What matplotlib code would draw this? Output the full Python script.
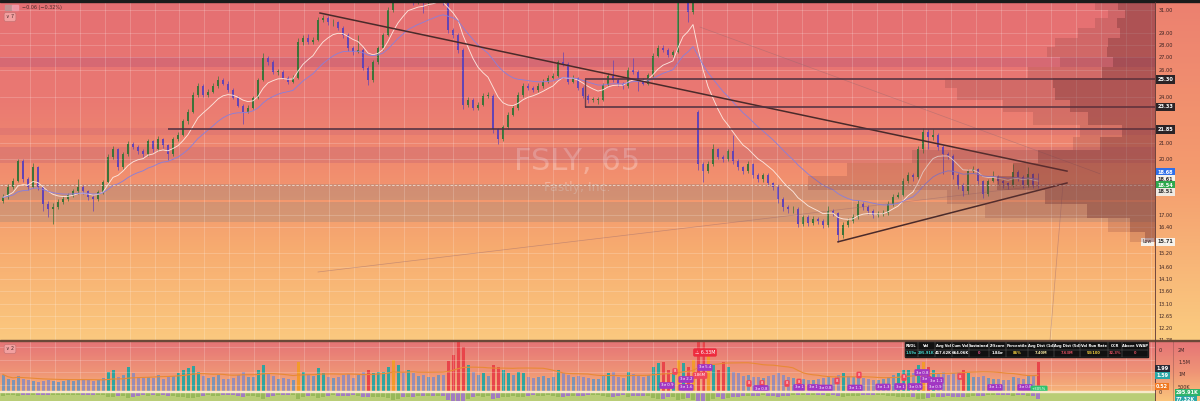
import numpy as np
import pandas as pd
import matplotlib
matplotlib.use("Agg")
import matplotlib.pyplot as plt
from matplotlib.patches import Rectangle
from matplotlib.transforms import offset_copy
from matplotlib.ticker import NullLocator, NullFormatter

# ---- FSLY 65m candles ----
closes = [17.90, 18.44, 18.76, 19.89, 18.87, 18.44, 19.55, 18.44, 17.54, 17.29,
          17.39, 17.64, 17.80, 18.01, 18.22, 18.44, 18.22, 17.90, 17.80, 18.17,
          18.71, 20.13, 20.60, 19.55, 20.30, 20.90, 20.72, 20.48, 20.30, 21.09,
          20.60, 21.21, 20.84, 20.30, 21.21, 21.52, 22.36, 23.01, 24.19, 24.83,
          24.19, 24.40, 24.83, 25.27, 24.98, 24.54, 23.98, 23.42, 23.01, 23.28,
          23.98, 25.27, 26.95, 26.63, 25.87, 25.87, 25.42, 25.12, 25.42, 28.23,
          28.57, 28.23, 28.40, 30.11, 30.28, 29.93, 29.93, 29.41, 28.82, 27.74,
          27.42, 27.58, 26.17, 25.27, 26.63, 27.74, 28.82, 31.00, 32.38, 32.86,
          32.67, 33.05, 31.73, 31.92, 31.64, 32.11, 31.92, 32.38, 31.73, 29.24,
          28.82, 27.58, 23.49, 23.84, 23.28, 23.49, 24.12, 24.12, 21.84, 21.21,
          21.97, 22.82, 23.28, 24.19, 24.83, 24.69, 24.54, 24.83, 25.12, 25.42,
          25.57, 26.63, 26.48, 25.12, 25.42, 24.69, 24.12, 23.84, 23.84, 23.84,
          24.90, 25.57, 25.27, 24.98, 24.83, 26.02, 25.87, 25.27, 24.98, 25.64,
          27.11, 27.74, 27.58, 27.18, 27.42, 31.92, 32.38, 30.82, 32.11, 19.72,
          19.32, 19.72, 20.60, 20.13, 20.01, 20.48, 19.89, 19.55, 19.32, 19.72,
          19.09, 18.87, 19.09, 18.65, 18.44, 17.80, 17.39, 17.29, 17.29, 16.55,
          16.89, 16.60, 16.79, 16.70, 16.50, 17.19, 17.09, 16.03, 16.50, 16.70,
          16.89, 17.54, 17.39, 17.19, 16.99, 17.04, 17.09, 17.54, 17.90, 18.01,
          18.76, 19.09, 18.98, 20.60, 21.71, 21.34, 21.52, 20.72, 20.30, 20.19,
          19.09, 18.55, 18.22, 19.32, 19.43, 18.76, 18.06, 18.76, 18.98, 18.76,
          18.65, 18.55, 19.26, 18.98, 18.55, 19.15, 18.55, 18.54]
highs = [18.05, 18.6, 18.95, 20.05, 20.0, 19.0, 19.8, 19.6, 18.5, 17.7,
         17.6, 17.8, 17.95, 18.15, 18.35, 18.9, 18.55, 18.3, 18.0, 18.3,
         18.85, 20.3, 20.8, 20.7, 20.45, 21.1, 21.05, 20.85, 20.6, 21.25,
         21.2, 21.4, 21.3, 20.95, 21.35, 21.7, 22.5, 23.2, 24.4, 25.0,
         24.95, 24.6, 25.0, 25.55, 25.4, 25.2, 24.65, 24.1, 23.5, 23.45,
         24.1, 25.4, 27.3, 27.1, 26.75, 26.1, 26.0, 25.55, 25.6, 28.6,
         28.8, 28.9, 28.65, 30.35, 30.55, 30.45, 30.2, 30.05, 29.55, 28.95,
         27.9, 28.8, 27.7, 26.3, 26.8, 27.9, 29.0, 31.3, 32.7, 33.2,
         33.1, 33.4, 33.2, 32.2, 32.1, 32.4, 32.3, 32.7, 32.6, 31.9,
         29.4, 29.0, 27.7, 24.0, 23.95, 23.65, 24.3, 24.35, 24.2, 21.95,
         22.1, 23.0, 23.45, 24.35, 25.0, 25.0, 24.8, 25.0, 25.3, 25.6,
         25.8, 26.8, 27.4, 26.6, 25.6, 25.5, 24.8, 24.25, 24.05, 24.0,
         25.05, 25.75, 26.8, 25.4, 25.1, 26.2, 26.95, 26.0, 25.4, 25.8,
         27.3, 28.0, 27.95, 27.7, 27.6, 32.2, 32.8, 32.5, 32.5, 23.1,
         19.85, 19.9, 20.9, 20.7, 20.25, 20.65, 21.5, 20.0, 19.65, 19.9,
         19.8, 19.2, 19.25, 19.2, 18.75, 18.55, 17.9, 17.5, 17.45, 17.4,
         17.0, 17.0, 16.95, 16.9, 16.8, 17.45, 17.3, 17.15, 16.65, 16.85,
         17.05, 17.75, 17.65, 17.5, 17.3, 17.2, 17.25, 17.7, 18.05, 18.2,
         18.95, 19.3, 19.2, 20.8, 21.95, 21.85, 21.9, 21.6, 20.85, 20.45,
         20.3, 19.2, 18.65, 19.45, 19.6, 19.5, 18.85, 18.9, 19.35, 19.1,
         18.9, 18.75, 19.72, 19.4, 19.1, 19.55, 19.25, 19.2]
lows = [17.6, 17.8, 18.35, 18.7, 18.75, 18.3, 18.4, 18.3, 17.2, 16.9,
        16.55, 17.3, 17.55, 17.7, 17.9, 18.1, 18.1, 17.75, 17.2, 17.7,
        18.1, 18.6, 20.0, 19.4, 19.45, 20.2, 20.6, 20.35, 20.15, 20.2,
        20.45, 20.5, 20.7, 19.95, 20.2, 21.1, 21.4, 22.2, 22.9, 24.0,
        24.0, 24.0, 24.3, 24.7, 24.85, 24.4, 23.85, 23.3, 22.2, 22.9,
        23.2, 23.9, 25.2, 26.4, 25.7, 25.6, 25.3, 24.95, 25.0, 25.3,
        28.0, 28.1, 28.1, 28.3, 29.9, 29.7, 29.6, 29.2, 28.6, 27.5,
        27.2, 27.3, 26.0, 24.85, 25.1, 26.5, 27.6, 28.7, 30.8, 32.1,
        32.4, 32.5, 31.5, 31.6, 30.7, 31.5, 31.7, 31.8, 31.5, 29.0,
        28.6, 27.3, 23.2, 23.3, 23.1, 23.1, 23.4, 23.95, 21.6, 20.95,
        21.1, 21.85, 22.7, 23.15, 24.05, 24.5, 24.35, 24.4, 24.7, 25.0,
        25.3, 25.45, 26.3, 24.95, 25.0, 24.5, 23.95, 23.6, 23.65, 23.5,
        23.75, 24.8, 25.1, 24.8, 24.6, 24.7, 25.7, 24.47, 24.85, 24.85,
        25.5, 27.0, 27.4, 27.0, 27.0, 27.3, 31.7, 29.9, 30.6, 19.4,
        18.7, 19.2, 19.6, 20.0, 19.85, 19.9, 19.75, 19.4, 19.15, 19.2,
        18.95, 18.7, 18.75, 18.5, 18.3, 17.6, 17.2, 17.1, 17.1, 16.4,
        16.45, 16.45, 16.5, 16.55, 16.35, 16.4, 16.95, 15.71, 15.9, 16.4,
        16.6, 16.8, 17.25, 17.05, 16.85, 16.9, 16.95, 17.0, 17.45, 17.85,
        17.95, 18.65, 18.8, 18.9, 20.4, 20.6, 21.2, 20.55, 19.15, 20.05,
        18.9, 18.35, 17.96, 18.1, 19.25, 18.6, 17.85, 17.95, 18.7, 18.6,
        18.4, 18.35, 18.45, 18.8, 18.4, 18.45, 18.4, 18.4]
open_fix = {0: 17.70, 139: 23.00}   # first bar and the gap-down bar

volumes_k = [700, 520, 480, 650, 540, 500, 460, 420, 450, 480,
             430, 420, 440, 470, 450, 500, 520, 480, 460, 500,
             560, 800, 900, 620, 700, 1000, 750, 600, 580, 620,
             560, 700, 520, 600, 640, 780, 900, 960, 1050, 820,
             640, 560, 600, 680, 540, 520, 560, 700, 820, 600,
             620, 880, 1100, 760, 640, 520, 560, 540, 500, 1200,
             820, 700, 640, 960, 760, 600, 560, 620, 680, 740,
             560, 700, 820, 900, 760, 800, 820, 1000, 1300, 1100,
             800, 900, 760, 640, 700, 620, 600, 700, 680, 1250,
             1500, 2000, 1800, 1100, 800, 700, 760, 640, 1100, 1000,
             880, 760, 700, 820, 760, 620, 560, 600, 640, 560,
             620, 900, 760, 700, 600, 640, 600, 560, 520, 540,
             700, 760, 820, 620, 560, 800, 720, 700, 600, 680,
             1000, 1150, 1200, 900, 800, 1300, 1150, 1000, 1300, 2600,
             2400, 1500, 1100, 900, 1200, 1000, 800, 760, 640, 700,
             620, 600, 560, 640, 700, 760, 680, 600, 560, 540,
             520, 500, 480, 540, 560, 600, 560, 700, 760, 640,
             620, 700, 560, 520, 500, 480, 520, 600, 680, 760,
             900, 880, 760, 1100, 1200, 1000, 900, 760, 820, 700,
             760, 820, 900, 760, 620, 600, 640, 560, 540, 520,
             500, 480, 600, 560, 520, 640, 700, 1200]

# drawings
upper_trend_idx = [63.4, 212.8]
upper_trend_px = [30.73, 19.33]
lower_trend_idx = [167, 212.8]
lower_trend_px = [15.71, 18.67]
levels = [25.30, 23.33, 21.85]
level_start = [116.4, 116.4, 33.0]
faint_lines = [([63.0, 211.4], [14.38, 18.65]),
               ([139.4, 219.4], [29.49, 19.18]),
               ([212.0, 209.4], [18.60, 11.78])]
zones = [(26.23, 27.01, '#9a3f78', 0.22), (21.46, 21.93, '#9a3f78', 0.12),
         (19.80, 20.72, '#9a3f78', 0.18), (17.76, 18.60, '#7d8080', 0.28),
         (16.64, 17.64, '#7d8080', 0.26)]

# volume profile (price bin edges, total / dark volume in K)
vp_edges = [31.74, 31.00, 30.28, 29.41, 28.56, 27.81, 27.01, 26.23, 25.40, 24.66, 23.81,
            22.98, 22.13, 21.36, 20.56, 19.80, 19.06, 18.29, 17.54, 16.83, 16.15, 15.70]
vp_total = [600, 470, 600, 770, 1000, 1080, 950, 1270, 2100, 1980, 1520,
            1220, 750, 820, 2430, 3080, 3470, 2080, 1700, 470, 250]
vp_dark = [370, 300, 380, 350, 470, 480, 420, 530, 1020, 1000, 850,
           670, 330, 550, 1170, 1420, 1580, 1100, 680, 250, 100]

price_ticks = [31, 29, 28, 27, 26, 24, 21, 20, 17, 16.4, 15.2, 14.6, 14.1, 13.6, 13.1, 12.65, 12.2, 11.78]

# volume pane tags
tag_idx = [140.4, 140.4, 139.4, 136.6, 132.8, 136.6, 134.4, 149.2, 151.8, 156.8, 159.2, 166.8, 171.2,
           151.6, 159.2, 162.0, 164.4, 170.4, 176.0, 179.4, 182.4, 186.4, 183.8, 184.6, 186.6,
           180.2, 191.4, 198.4, 204.4, 207.2]
tag_vol = [1580, 980, 660, 500, 260, 180, 820, 340, 340, 340, 400, 440, 680,
           140, 180, 180, 160, 160, 200, 220, 220, 220, 780, 500, 460,
           580, 620, 180, 180, 120]
tag_txt = ['\u26a0 6.33M', '3\u03c3 5.4', '1.86M', '3\u03c3 2.2', '3\u03c3 0.9', '3\u03c3 1.6', '8', '8', '8', '8', '8', '8', '8',
           '3\u03c3 0.8', '3\u03c3 1', '3\u03c3 1', '3\u03c3 0.8', '3\u03c3 1.1', '3\u03c3 1.3', '3\u03c3 1', '3\u03c3 0.9', '3\u03c3 0.9',
           '3\u03c3 0.8', '3\u03c3 1', '3\u03c3 1.1', '8', '8', '3\u03c3 1.1', '3\u03c3 0.8', '+305%']
tag_kind = ['big', 'p', 'r', 'p', 'p', 'p', 'r', 'r', 'r', 'r', 'r', 'r', 'r',
            'p', 'p', 'p', 'p', 'p', 'p', 'p', 'p', 'p', 'p', 'p', 'p', 'r', 'r', 'p', 'p', 'g']

headers = ['RVOL', 'Vol', 'Avg Vol', 'Cum Vol', 'Sustained', 'Z-Score', 'Percentile',
           'Avg Dist (1d)', 'Avg Dist (5d)', 'Vol Run Rate', 'OCR', 'Above VWAP']
cells = ['1.59x', '295.91K', '417.62K', '664.06K', '0', '1.84\u03c3', '86%',
         '7.40M', '7.63M', '53/100', '32.3%', '0']
cell_colors = ['#45d3cb', '#45d3cb', '#ffffff', '#ffffff', '#e0508a', '#ffffff', '#f5d040',
               '#f5e6a0', '#e05060', '#f5d040', '#e05060', '#e05060']
col_w = [13, 17, 17, 17, 20, 17, 22, 26, 26, 28, 14, 26]

# ---------------------------------------------------------------
W, H = 1200, 401
fig = plt.figure(figsize=(12, 4.01), dpi=100)


def rect(x0, y0, x1, y1):
    return [x0 / W, 1 - y1 / H, (x1 - x0) / W, (y1 - y0) / H]


def ramp(stops, ys):
    sy = [s[0] for s in stops]
    cols = np.array([s[1] for s in stops], float)
    return np.stack([np.interp(ys, sy, cols[:, k]) for k in range(3)], axis=1) / 255


ys = np.arange(H) + 0.5
price_stops = [(0, (229, 111, 115)), (100, (234, 121, 114)), (170, (241, 141, 110)),
               (250, (247, 172, 112)), (340, (251, 201, 127))]
axis_stops = [(0, (236, 128, 112)), (170, (244, 155, 110)), (340, (251, 204, 128))]
vol_stops = [(341, (229, 116, 119)), (372, (239, 148, 118)), (401, (250, 196, 124))]
main_col = np.where((ys <= 340.5)[:, None], ramp(price_stops, ys), ramp(vol_stops, ys))
axis_col = np.where((ys <= 340.5)[:, None], ramp(axis_stops, ys), ramp(vol_stops, ys))

bg = fig.add_axes([0, 0, 1, 1])
bg.set_xlim(0, W)
bg.set_ylim(H, 0)
bg.axis('off')
bg.imshow(main_col[:, None, :], extent=(0, 1155, H, 0), aspect='auto')
bg.imshow(axis_col[:, None, :], extent=(1155, W, H, 0), aspect='auto')
bg.text(577, 162, 'FSLY, 65', fontsize=22, color='white', alpha=0.28, ha='center', va='center')
bg.text(577, 187, 'Fastly, Inc.', fontsize=9, color='white', alpha=0.3, ha='center', va='center')

n = len(closes)
idx = np.arange(n)
o = np.array([open_fix.get(i, closes[i - 1]) for i in range(n)])
c = np.array(closes)
h = np.maximum(np.array(highs), np.maximum(o, c))
lo = np.minimum(np.array(lows), np.minimum(o, c))
up = c >= o
up_col, dn_col = '#3d7339', '#6444b4'
ccol = np.where(up, up_col, dn_col)

grid_x = np.arange(5.4, 231, 4.98)
xlim = (-0.6, 230.4)

# ---- price pane ----
ax = fig.add_axes(rect(0, 2, 1155, 340))
ax.set_facecolor('none')
ax.set_yscale('log')
ax.set_xlim(*xlim)
ax.set_ylim(11.78, 31.74)
for s in ax.spines.values():
    s.set_visible(False)
ax.set_xticks(grid_x)
ax.set_yticks(price_ticks)
ax.yaxis.set_minor_locator(NullLocator())
ax.yaxis.set_minor_formatter(NullFormatter())
ax.set_yticklabels([f'{v:.2f}' for v in price_ticks])
ax.yaxis.tick_right()
ax.tick_params(axis='y', length=0, pad=2.5, labelsize=3.6, labelcolor='#3b2323')
ax.tick_params(axis='x', length=0, labelbottom=False)
ax.grid(True, color='white', alpha=0.22, lw=0.6)

for lo_p, hi_p, col, a in zones:
    ax.axhspan(lo_p, hi_p, color=col, alpha=a, lw=0)

for xs, ps in faint_lines:
    ax.plot(xs, ps, color='#9a6a70', lw=0.5, alpha=0.5)

ax.vlines(idx, lo, h, colors=ccol, lw=0.5)
ax.bar(idx, np.maximum(np.abs(c - o), 0.03), bottom=np.minimum(o, c), width=0.46, color=ccol, lw=0)

ema_fast = pd.Series(closes).ewm(span=9, adjust=False).mean()
ema_slow = pd.Series(closes).ewm(span=21, adjust=False).mean()
ax.plot(idx, ema_fast, color='#fdeae2', lw=0.65, alpha=0.95)
ax.plot(idx, ema_slow, color='#8b7fd8', lw=0.65)

ax.plot(upper_trend_idx, upper_trend_px, color='#4a2a2a', lw=1.1)
ax.plot(lower_trend_idx, lower_trend_px, color='#4a2a2a', lw=1.1)
for lv, st in zip(levels, level_start):
    ax.hlines(lv, st, xlim[1], color='#4d3040', lw=1.3, alpha=0.85)
ax.vlines(level_start[0], levels[1], levels[0], color='#4d3040', lw=1.0, alpha=0.8)
ax.axhline(closes[-1], color='#f4efe6', lw=0.6, ls=(0, (3, 2)), alpha=0.8)

vp = ax.twiny()
vp.set_xlim(11550, 0)
vp.set_xticks([])
for s in vp.spines.values():
    s.set_visible(False)
bot = np.array(vp_edges[1:])
hgt = np.array(vp_edges[:-1]) - bot
vp.barh(bot, vp_total, height=hgt, align='edge', color='#7a3a3c', alpha=0.2, lw=0)
vp.barh(bot, vp_dark, height=hgt, align='edge', color='#6a2c30', alpha=0.33, lw=0)


def price_badge(price, text, fc, tc, dy=0):
    tr = offset_copy(ax.get_yaxis_transform(), fig=fig, x=2.5, y=-dy, units='dots')
    ax.text(1.0, price, text, transform=tr, fontsize=3.6, color=tc, ha='left', va='center',
            fontweight='bold', clip_on=False, zorder=20,
            bbox=dict(boxstyle='square,pad=0.35', fc=fc, ec='none'))


price_badge(25.30, '25.30', '#2b2326', 'white')
price_badge(23.33, '23.33', '#2b2326', 'white')
price_badge(21.85, '21.85', '#2b2326', 'white')
price_badge(18.68, '18.68', '#2f6fe8', 'white', dy=-10.7)
price_badge(18.61, '18.61', '#f6f1ea', '#333333', dy=-5)
price_badge(18.54, '18.54', '#2ea84e', 'white', dy=0)
price_badge(18.51, '18.51', '#efe9e2', '#333333', dy=6)
price_badge(15.71, '15.71', '#f6f1ea', '#333333')
tr_low = offset_copy(ax.get_yaxis_transform(), fig=fig, x=-3, y=0, units='dots')
ax.text(1.0, 15.71, 'Low', transform=tr_low, fontsize=3.4, color='#333333', ha='right', va='center',
        clip_on=False, zorder=20, bbox=dict(boxstyle='square,pad=0.35', fc='#f6f1ea', ec='none'))

# ---- volume pane ----
axv = fig.add_axes(rect(0, 341, 1155, 401))
axv.set_facecolor('none')
axv.set_xlim(*xlim)
axv.set_ylim(-360, 2040)
for s in axv.spines.values():
    s.set_visible(False)
axv.set_xticks(grid_x)
axv.set_yticks([300, 800, 1300, 1800])
axv.tick_params(length=0, labelbottom=False, labelleft=False)
axv.grid(True, color='white', alpha=0.22, lw=0.6)
vcol = []
for u, v in zip(up, volumes_k):
    if u:
        vcol.append('#f39a2b' if v >= 1200 else ('#2fa4a0' if v >= 750 else '#7d93b5'))
    else:
        vcol.append('#e8454a' if v >= 900 else '#9a8cb4')
axv.bar(idx, volumes_k, width=0.6, color=vcol, lw=0)
axv.plot(idx, pd.Series(volumes_k).rolling(20, min_periods=1).mean(), color='#e98a35', lw=0.8)

tag_style = {'p': ('#a236c4', 2.8), 'r': ('#f0465a', 2.8), 'g': ('#2cc36b', 2.8), 'big': ('#ee2a3e', 3.4)}
for ti, tv, tt, tk in zip(tag_idx, tag_vol, tag_txt, tag_kind):
    fc, fs = tag_style[tk]
    axv.text(ti, tv, tt, fontsize=fs, color='white', ha='center', va='center', zorder=6,
             bbox=dict(boxstyle='round,pad=0.35', fc=fc, ec='none'))

axd = fig.add_axes(rect(0, 392, 1155, 401))
axd.set_xlim(*xlim)
axd.set_ylim(1500, 0)
axd.axis('off')
axd.add_patch(Rectangle((0, 0), 1, 1, transform=axd.transAxes, color='#b9cd76', zorder=0))
axd.bar(idx, volumes_k, width=0.8, color=np.where(up, '#98b85a', '#a27cc0'), lw=0, zorder=1)

# ---- overlay: frame, axis labels, table ----
ov = fig.add_axes([0, 0, 1, 1])
ov.set_xlim(0, W)
ov.set_ylim(H, 0)
ov.axis('off')
ov.add_patch(Rectangle((0, 0), W, 2, color='#1b1b1b'))
ov.add_patch(Rectangle((0, 339.5), W, 1.5, color='#6b4838'))
ov.add_patch(Rectangle((0, 391.3), 1155, 0.8, color='#f7e9c8'))
ov.plot([1155, 1155], [2, H], color='#5a3535', lw=0.6)
ov.plot([1173, 1173], [341, H], color='#6a4040', lw=0.4, alpha=0.6)

ov.add_patch(Rectangle((5, 5), 7, 5, color='#b89a9a', alpha=0.8))
ov.add_patch(Rectangle((12, 5), 6, 5, color='#f0a0b0', alpha=0.8))
ov.text(22, 7.5, '\u22120.06 (\u22120.32%)', fontsize=3.5, color='#4a2a2a', va='center')
ov.text(10, 17, '\u2228 7', fontsize=3.4, color='#4a2a2a', ha='center', va='center',
        bbox=dict(boxstyle='round,pad=0.4', fc='#f2a0a0', ec='#c07070', lw=0.4))
ov.text(10, 349, '\u2228 2', fontsize=3.4, color='#4a2a2a', ha='center', va='center',
        bbox=dict(boxstyle='round,pad=0.4', fc='#f2a0a0', ec='#c07070', lw=0.4))

for yy, lab in [(350, '2M'), (362.5, '1.5M'), (375, '1M'), (387.5, '500K')]:
    ov.text(1178, yy, lab, fontsize=3.5, color='#3b2323', va='center')
ov.text(1159, 350, '0', fontsize=3.5, color='#3b2323', va='center')
ov.text(1159, 393, '0', fontsize=3.5, color='#3b2323', va='center')
for yy, lab, fc in [(369, '1.99', '#2a2a35'), (375.5, '1.59', '#2aa6a6'), (386.5, '0.52', '#f07820')]:
    ov.text(1156, yy, lab, fontsize=3.5, color='white', va='center', fontweight='bold',
            bbox=dict(boxstyle='square,pad=0.3', fc=fc, ec='none'))
ov.text(1176, 392.5, '295.91K', fontsize=3.5, color='white', va='center', fontweight='bold',
        bbox=dict(boxstyle='square,pad=0.3', fc='#2fb36a', ec='none'))
ov.text(1176, 399.5, '77.32K', fontsize=3.5, color='white', va='center', fontweight='bold',
        bbox=dict(boxstyle='square,pad=0.3', fc='#2aa6a6', ec='none'))

x0 = 905
edges = np.concatenate([[0], np.cumsum(col_w)]) + x0
ov.add_patch(Rectangle((x0, 342), edges[-1] - x0, 15, color='#111111', zorder=5))
for k in range(len(headers)):
    xa, xb = edges[k], edges[k + 1]
    ov.add_patch(Rectangle((xa, 342), xb - xa, 7.5, fill=False, ec='#4a4a4a', lw=0.3, zorder=6))
    ov.add_patch(Rectangle((xa, 349.5), xb - xa, 7.5, fill=False, ec='#4a4a4a', lw=0.3, zorder=6))
    xm = (xa + xb) / 2
    ov.text(xm, 345.8, headers[k], fontsize=2.6, color='white', ha='center', va='center',
            fontweight='bold', zorder=7)
    ov.text(xm, 353.3, cells[k], fontsize=2.6, color=cell_colors[k], ha='center', va='center',
            fontweight='bold', zorder=7)

fig.savefig('out.png', dpi=100)
